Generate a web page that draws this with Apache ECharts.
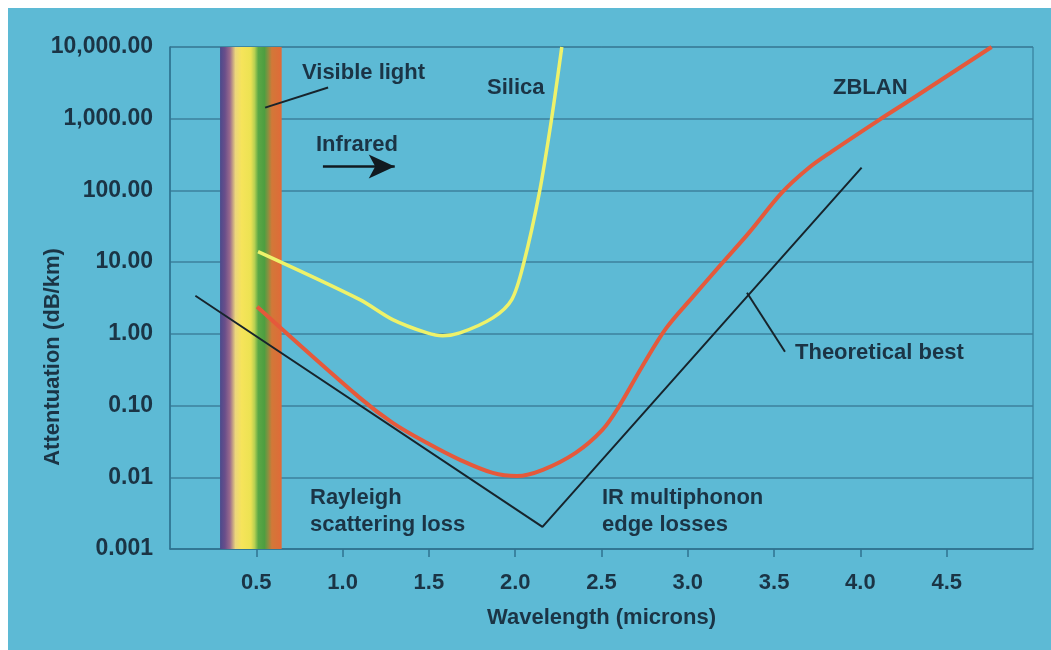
<!DOCTYPE html>
<html>
<head>
<meta charset="utf-8">
<script src="https://cdn.jsdelivr.net/npm/echarts@6/dist/echarts.min.js"></script>
<style>
  html, body { margin: 0; padding: 0; background: #ffffff; }
  #chart { width: 1051px; height: 650px; }
</style>
</head>
<body>
<div id="chart"></div>
<script>
// ---- Data ----
const silicaWavelength = [0.51, 1.10, 1.29, 1.49, 1.58, 1.68, 1.87, 1.98, 2.05, 2.14, 2.21, 2.27];
const silicaLoss       = [14, 3.0, 1.58, 1.03, 0.94, 1.03, 1.67, 3.0, 9.8, 93, 970, 10000];

const zblanWavelength = [0.505, 1.10, 1.29, 1.49, 1.68, 1.87, 2.01, 2.16, 2.35, 2.505, 2.60, 2.735, 2.875, 3.03, 3.18, 3.355, 3.545, 3.70, 3.835, 4.105, 4.30, 4.76];
const zblanLoss       = [2.39, 0.128, 0.0574, 0.030, 0.0175, 0.0115, 0.0104, 0.0127, 0.0219, 0.0458, 0.096, 0.348, 1.2, 3.3, 8.6, 25.8, 93, 205, 350, 950, 1900, 10000];

const theoryWavelength = [0.147, 2.158, 4.007];
const theoryLoss       = [3.4, 0.00203, 208];

const visibleBand = [0.29, 0.647];          // wavelength span of the spectrum band
const visibleLeader = [[0.551, 1429], [0.916, 2721]];
const theoryLeader  = [[3.343, 3.74], [3.563, 0.562]];
const infraredArrow = [[0.886, 215], [1.302, 215]];

const xTickValues = [0.5, 1.0, 1.5, 2.0, 2.5, 3.0, 3.5, 4.0, 4.5];
const yTickLabels = ['0.001', '0.01', '0.10', '1.00', '10.00', '100.00', '1,000.00', '10,000.00'];

const xTitle = 'Wavelength (microns)';
const yTitle = 'Attentuation (dB/km)';

// ---- Styling ----
const BG = '#5dbad5';
const TXT = '#1b3445';
const GRIDC = '#3c819c';
const AXISC = '#2f7390';
const FONT = '"Liberation Sans", Arial, Helvetica, sans-serif';

function pairs(xs, ys) { return xs.map((x, i) => [x, ys[i]]); }

const chart = echarts.init(document.getElementById('chart'), null, { renderer: 'canvas' });

const textStyleBase = { fill: TXT, fontFamily: FONT, fontWeight: 'bold', fontSize: 22, verticalAlign: 'middle' };
function label(text, x, y) {
  return { type: 'text', x: x, y: y, silent: true, z: 100, style: Object.assign({ text: text, align: 'left' }, textStyleBase) };
}

chart.setOption({
  animation: false,
  backgroundColor: BG,
  grid: {
    left: 170, right: 18, top: 47, bottom: 101,
    show: true, borderColor: AXISC, borderWidth: 1, backgroundColor: 'transparent'
  },
  xAxis: {
    type: 'value', min: 0, max: 5, interval: 0.5,
    name: xTitle, nameLocation: 'middle', nameGap: 58,
    nameTextStyle: { color: TXT, fontFamily: FONT, fontWeight: 'bold', fontSize: 22 },
    axisLine: { show: true, lineStyle: { color: AXISC, width: 1.5 } },
    axisTick: { show: true, inside: false, length: 8, customValues: xTickValues, lineStyle: { color: AXISC, width: 1.5 } },
    axisLabel: {
      customValues: xTickValues, margin: 23,
      color: TXT, fontFamily: FONT, fontWeight: 'bold', fontSize: 22,
      formatter: v => v.toFixed(1)
    },
    splitLine: { show: false }
  },
  yAxis: {
    type: 'log', logBase: 10, min: 0.001, max: 10000,
    axisLine: { show: true, lineStyle: { color: AXISC, width: 1.5 } },
    axisTick: { show: false },
    axisLabel: {
      margin: 17, color: TXT, fontFamily: FONT, fontWeight: 'bold', fontSize: 23,
      formatter: v => {
        const e = Math.round(Math.log10(v));
        return yTickLabels[e + 3] !== undefined ? yTickLabels[e + 3] : '';
      }
    },
    splitLine: { show: true, lineStyle: { color: GRIDC, width: 1.5 } }
  },
  series: [
    {
      name: 'band', type: 'line', data: [], silent: true,
      markArea: {
        silent: true,
        itemStyle: {
          color: {
            type: 'linear', x: 0, y: 0, x2: 1, y2: 0,
            colorStops: [
              { offset: 0.00, color: '#4a4a8c' },
              { offset: 0.08, color: '#6a4e8a' },
              { offset: 0.16, color: '#9a6a8c' },
              { offset: 0.25, color: '#ecd67c' },
              { offset: 0.35, color: '#f6e45a' },
              { offset: 0.50, color: '#ece252' },
              { offset: 0.56, color: '#b8d052' },
              { offset: 0.62, color: '#5aa846' },
              { offset: 0.72, color: '#4e9e40' },
              { offset: 0.78, color: '#8a9040' },
              { offset: 0.84, color: '#d27838' },
              { offset: 1.00, color: '#e06a38' }
            ]
          }
        },
        data: [[{ xAxis: visibleBand[0] }, { xAxis: visibleBand[1] }]]
      }
    },
    {
      name: 'Silica', type: 'line', data: pairs(silicaWavelength, silicaLoss),
      showSymbol: false, smooth: 0.3, z: 5,
      lineStyle: { color: '#eef26a', width: 3.5 }
    },
    {
      name: 'ZBLAN', type: 'line', data: pairs(zblanWavelength, zblanLoss),
      showSymbol: false, smooth: 0.35, z: 6,
      lineStyle: { color: '#e5593b', width: 4 }
    },
    {
      name: 'Theoretical best', type: 'line', data: pairs(theoryWavelength, theoryLoss),
      showSymbol: false, smooth: false, z: 7,
      lineStyle: { color: '#17242c', width: 2 }
    },
    {
      name: 'visibleLeader', type: 'line', data: visibleLeader, silent: true,
      showSymbol: false, z: 7, lineStyle: { color: '#17242c', width: 2 }
    },
    {
      name: 'theoryLeader', type: 'line', data: theoryLeader, silent: true,
      showSymbol: false, z: 7, lineStyle: { color: '#17242c', width: 2 },
      markLine: {
        silent: true, animation: false,
        symbol: ['none', 'arrow'], symbolSize: [18, 26],
        label: { show: false },
        lineStyle: { color: '#111a20', width: 2.5, type: 'solid' },
        data: [[{ coord: infraredArrow[0] }, { coord: infraredArrow[1] }]]
      }
    }
  ],
  graphic: [
    { type: 'rect', shape: { x: 0, y: 0, width: 1051, height: 8 }, style: { fill: '#ffffff' }, silent: true, z: 200 },
    { type: 'rect', shape: { x: 0, y: 0, width: 8, height: 650 }, style: { fill: '#ffffff' }, silent: true, z: 200 },
    label('Visible light', 302, 73),
    label('Silica', 487, 88),
    label('ZBLAN', 833, 88),
    label('Infrared', 316, 145),
    label('Theoretical best', 795, 353),
    label('Rayleigh', 310, 498),
    label('scattering loss', 310, 525),
    label('IR multiphonon', 602, 498),
    label('edge losses', 602, 525),
    {
      type: 'text', x: 53, y: 357, rotation: Math.PI / 2, silent: true, z: 100,
      style: Object.assign({ text: yTitle, align: 'center' }, textStyleBase)
    }
  ]
});
</script>
</body>
</html>
